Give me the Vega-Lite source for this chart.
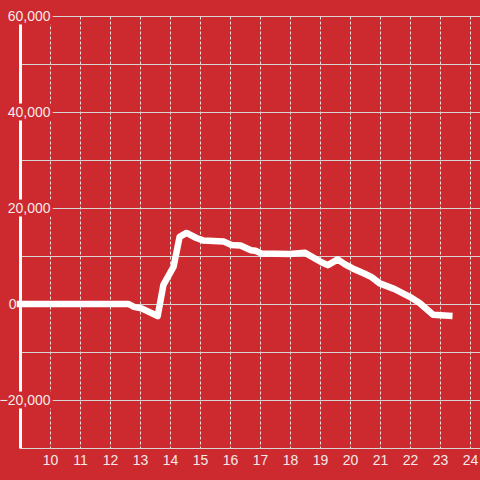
{
  "$schema": "https://vega.github.io/schema/vega-lite/v6.json",
  "width": 460,
  "height": 432,
  "autosize": {"type": "none"},
  "padding": {"left": 20, "top": 16, "right": 0, "bottom": 32},
  "background": "#cd2a30",
  "config": {
    "view": {"stroke": null},
    "font": "Liberation Sans"
  },
  "resolve": {"axis": {"y": "independent"}},
  "layer": [
    {
      "data": {"values": [{"v": -20000}, {"v": 20000}, {"v": 40000}, {"v": 60000}]},
      "mark": {"type": "tick", "orient": "horizontal", "size": 53, "thickness": 17, "color": "#cd2a30", "opacity": 1},
      "encoding": {
        "x": {
          "datum": 9.207, "type": "quantitative",
          "scale": {"domain": [9, 24.3333], "nice": false, "zero": false},
          "axis": {
            "values": [10, 11, 12, 13, 14, 15, 16, 17, 18, 19, 20, 21, 22, 23, 24],
            "grid": true, "gridDash": [3, 2], "gridColor": "#e8e0e0", "gridWidth": 1,
            "domain": false, "ticks": false, "tickSize": 0, "labelPadding": 5,
            "labelFontSize": 14, "labelColor": "#f3e9e9", "labelFlush": false, "title": null
          }
        },
        "y": {
          "field": "v", "type": "quantitative",
          "scale": {"domain": [-30000, 60000], "nice": false, "zero": false},
          "axis": {
            "values": [-30000, -20000, -10000, 0, 10000, 20000, 30000, 40000, 50000, 60000],
            "grid": true, "gridColor": "#d9d4d4", "gridWidth": 1,
            "domain": true, "domainColor": "#ffffff", "domainWidth": 3,
            "labels": false, "ticks": false, "tickSize": 0, "title": null, "orient": "left", "zindex": 0
          }
        }
      }
    },
    {
      "mark": {"type": "rule", "color": "#ffffff", "strokeWidth": 3},
      "encoding": {"y": {"datum": 0, "type": "quantitative", "axis": null}}
    },
    {
      "data": {"values": [
        {"h": 9.0, "v": 0}, {"h": 12.62, "v": 0}, {"h": 12.8, "v": -600}, {"h": 13.05, "v": -900},
        {"h": 13.59, "v": -2500}, {"h": 13.78, "v": 4000}, {"h": 14.12, "v": 7800}, {"h": 14.32, "v": 14000},
        {"h": 14.55, "v": 14800}, {"h": 14.88, "v": 13750}, {"h": 15.1, "v": 13250}, {"h": 15.8, "v": 13000},
        {"h": 16.05, "v": 12300}, {"h": 16.35, "v": 12200}, {"h": 16.7, "v": 11200}, {"h": 16.85, "v": 11100},
        {"h": 17.05, "v": 10500}, {"h": 18.0, "v": 10400}, {"h": 18.49, "v": 10700}, {"h": 19.05, "v": 8700},
        {"h": 19.26, "v": 8100}, {"h": 19.59, "v": 9300}, {"h": 19.82, "v": 8300}, {"h": 20.09, "v": 7400},
        {"h": 20.49, "v": 6300}, {"h": 20.72, "v": 5600}, {"h": 20.99, "v": 4300}, {"h": 21.49, "v": 3100},
        {"h": 21.99, "v": 1500}, {"h": 22.32, "v": 200}, {"h": 22.77, "v": -2250}, {"h": 23.31, "v": -2450}
      ]},
      "mark": {"type": "line", "color": "#ffffff", "strokeWidth": 6.5, "strokeCap": "square", "strokeJoin": "round"},
      "encoding": {
        "x": {
          "field": "h", "type": "quantitative",
          "axis": {
            "values": [10, 11, 12, 13, 14, 15, 16, 17, 18, 19, 20, 21, 22, 23, 24],
            "grid": true, "gridDash": [3, 2], "gridColor": "#e8e0e0", "gridWidth": 1,
            "domain": false, "ticks": false, "tickSize": 0, "labelPadding": 5,
            "labelFontSize": 14, "labelColor": "#f3e9e9", "labelFlush": false, "title": null
          }
        },
        "y": {
          "field": "v", "type": "quantitative",
          "axis": {
            "values": [-20000, 0, 20000, 40000, 60000],
            "grid": false, "domain": false, "ticks": false, "tickSize": 0,
            "labelAlign": "right",
            "labelPadding": {"condition": {"test": "datum.value === 0", "value": 4}, "value": -30},
            "labelFontSize": 14, "labelColor": "#f3e9e9",
            "title": null, "orient": "left", "zindex": 1
          }
        }
      }
    }
  ]
}
